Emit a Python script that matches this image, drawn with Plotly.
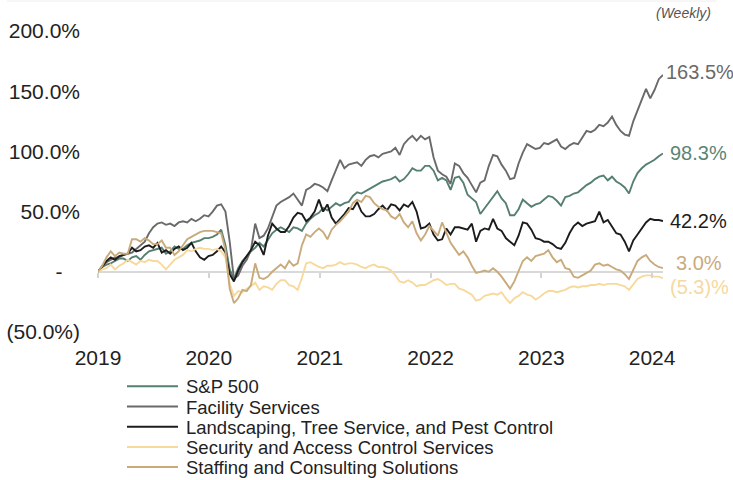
import pandas as pd
import plotly.graph_objects as go

# ---------------- data (cumulative return, %, bi-weekly samples) ----------------
dates = pd.date_range("2019-01-01", periods=134, freq="14D")

sp500 = ([0, 4, 6, 7, 9, 11, 11, 9, 12, 13, 10, 14, 17, 18, 19, 20, 15, 17, 21, 19, 19, 22, 24, 25, 26, 28]
         + [28, 29, 31, 35, 22, 2, -6, 3, 9, 13, 17, 20, 24, 21, 27, 32, 35, 37, 35, 33, 37, 36, 34, 40, 44, 47]
         + [49, 53, 51, 54, 57, 55, 57, 58, 63, 66, 65, 67, 69, 71, 73, 75, 76, 77, 79, 75, 77, 81, 86, 84, 84, 88]
         + [88, 84, 76, 78, 76, 68, 78, 79, 74, 64, 61, 58, 48, 53, 57, 63, 67, 61, 57, 47, 47, 52, 60, 57, 54, 56]
         + [57, 60, 63, 62, 59, 55, 62, 63, 65, 66, 69, 72, 74, 77, 79, 80, 76, 79, 75, 73, 70, 65, 75, 82, 86, 89]
         + [91, 93, 96, 98.3])

facility = ([0, 5, 8, 10, 12, 12, 14, 15, 16, 19, 22, 25, 32, 37, 40, 41, 39, 40, 38, 41, 42, 41, 44, 42, 44, 47]
            + [46, 50, 55, 56, 50, 25, -6, -3, 5, 10, 18, 40, 28, 30, 36, 45, 55, 58, 60, 62, 65, 60, 55, 68, 70, 73]
            + [72, 70, 67, 76, 85, 93, 86, 89, 90, 91, 88, 93, 96, 97, 95, 98, 99, 100, 103, 97, 106, 110, 113, 109, 113, 110]
            + [112, 95, 84, 81, 79, 73, 90, 88, 82, 78, 72, 66, 74, 76, 88, 97, 96, 89, 84, 77, 78, 90, 99, 106, 104, 102]
            + [103, 107, 106, 108, 110, 104, 102, 105, 107, 106, 112, 117, 116, 118, 122, 121, 124, 129, 122, 117, 114, 113, 125, 134, 144, 152]
            + [144, 151, 160, 163.5])

landscaping = ([0, 5, 9, 12, 10, 13, 14, 15, 20, 17, 18, 21, 22, 20, 24, 16, 18, 15, 19, 21, 18, 20, 24, 17, 12, 10]
               + [13, 14, 17, 21, 16, -2, -8, 1, 8, 13, 18, 25, 22, 14, 30, 40, 36, 33, 33, 38, 45, 49, 48, 42, 45, 50]
               + [60, 50, 56, 45, 40, 44, 48, 53, 52, 58, 50, 46, 46, 48, 52, 55, 51, 56, 55, 51, 56, 54, 58, 50, 36, 37]
               + [40, 31, 26, 27, 36, 31, 37, 37, 36, 35, 40, 25, 34, 36, 35, 44, 36, 34, 28, 25, 22, 30, 41, 40, 35, 28]
               + [27, 25, 25, 23, 20, 19, 24, 32, 38, 41, 38, 40, 41, 42, 50, 41, 43, 38, 32, 31, 25, 17, 26, 31, 36, 41]
               + [44, 43, 43, 42.2])

security = ([0, 2, 3, 6, 2, 5, 7, 10, 8, 6, 9, 8, 10, 9, 9, 6, 2, 6, 10, 12, 14, 18, 17, 19, 20, 19]
            + [19, 18, 19, 17, 12, -10, -20, -16, -17, -14, -12, -9, -15, -12, -13, -15, -10, -7, -7, -11, -12, -15, -5, 7, 8, 6]
            + [4, 3, 5, 5, 6, 8, 6, 7, 7, 6, 4, 3, 5, 6, 4, 4, 3, 1, -3, -8, -9, -7, -9, -12, -11, -11]
            + [-9, -7, -6, -8, -11, -10, -10, -14, -15, -17, -19, -24, -23, -20, -19, -18, -19, -17, -22, -26, -22, -20, -17, -19, -20, -23]
            + [-21, -18, -16, -16, -17, -16, -15, -13, -12, -13, -12, -12, -11, -11, -10, -11, -10, -10, -10, -11, -12, -15, -10, -6, -4, -3]
            + [-3, -4, -4, -5.3])

staffing = ([0, 5, 12, 17, 13, 16, 15, 15, 27, 27, 25, 28, 26, 23, 23, 26, 20, 20, 14, 17, 22, 27, 29, 31, 33, 34]
            + [34, 34, 33, 32, 18, -14, -26, -22, -15, -16, -11, 7, -5, -6, -4, 0, 3, 6, 3, 9, 5, 7, 22, 31, 29, 33]
            + [36, 33, 27, 35, 39, 42, 46, 50, 57, 60, 58, 63, 62, 57, 54, 52, 51, 46, 44, 48, 41, 37, 42, 32, 26, 31]
            + [38, 34, 30, 41, 33, 24, 19, 14, 17, 12, 5, -1, 0, 1, 0, 3, 0, -4, -9, -14, -8, 1, 9, 12, 9, 13]
            + [14, 15, 18, 12, 8, 10, 3, 2, -4, -5, -3, -1, 1, 6, 7, 5, 6, 4, 2, 1, -2, -6, 2, 9, 12, 14]
            + [9, 6, 4, 3.0])

series_names = ["S&P 500", "Facility Services", "Landscaping, Tree Service, and Pest Control",
                "Security and Access Control Services", "Staffing and Consulting Solutions"]
series_values = [sp500, facility, landscaping, security, staffing]
end_labels = ["98.3%", "163.5%", "42.2%", "(5.3)%", "3.0%"]

y_tick_vals = [200, 150, 100, 50, 0, -50]
y_tick_text = ["200.0%", "150.0%", "100.0%", "50.0%", "-\u00a0\u00a0\u00a0", "(50.0%)"]
x_tick_vals = ["2019-01-01", "2020-01-01", "2021-01-01", "2022-01-01", "2023-01-01", "2024-01-01"]
x_tick_text = ["2019", "2020", "2021", "2022", "2023", "2024"]

# ---------------- styling ----------------
colors = ["#557f70", "#6b6969", "#1c1c1c", "#f8d99c", "#c9ab7b"]
label_colors = ["#5a8576", "#6b6969", "#1c1c1c", "#f6d9a0", "#c9ab7b"]
label_dx = [5, 1, 5, 5, 11]
label_dy = [0, 3, 0, -9, 5]
FONT = "Liberation Sans, Arial, sans-serif"

W_PX, H_PX = 733, 480
L, R, T, B = 98, 663, 31, 332


def px(x):
    return (x - L) / (R - L)


def py(y):
    return (B - y) / (B - T)


fig = go.Figure()
for i in range(5):
    fig.add_trace(go.Scatter(
        x=dates, y=series_values[i], name=series_names[i], mode="lines",
        line=dict(color=colors[i], width=1.9), showlegend=False,
        hovertemplate="%{x|%b %d, %Y}: %{y:.1f}%<extra>" + series_names[i] + "</extra>",
    ))

# invisible carrier trace so the zero-line tick axis (x2) is rendered
fig.add_trace(go.Scatter(
    x=dates, y=sp500, xaxis="x2", yaxis="y", mode="lines",
    line=dict(width=0, color="rgba(0,0,0,0)"), hoverinfo="skip", showlegend=False,
))

annotations = []
for i in range(5):
    annotations.append(dict(
        x=dates[-1], y=series_values[i][-1], xref="x", yref="y",
        text=end_labels[i], showarrow=False, xanchor="left", yanchor="middle",
        xshift=label_dx[i], yshift=label_dy[i],
        font=dict(family=FONT, size=20, color=label_colors[i]),
    ))

annotations.append(dict(
    x=px(713), y=py(13.5), xref="paper", yref="paper", text="<i>(Weekly)</i>",
    showarrow=False, xanchor="right", yanchor="middle",
    font=dict(family=FONT, size=14, color="#555555"),
))

legend_rows = [386.7, 407, 427.3, 447.5, 467.5]
shapes = [dict(type="line", xref="paper", yref="paper",
               x0=px(7), x1=px(716), y0=py(1), y1=py(1),
               line=dict(color="#eeeeee", width=1))]
for i in range(5):
    annotations.append(dict(
        x=px(184), y=py(legend_rows[i]), xref="paper", yref="paper",
        text=series_names[i], showarrow=False, xanchor="left", yanchor="middle",
        font=dict(family=FONT, size=18.5, color="#222222"),
    ))
    shapes.append(dict(
        type="line", xref="paper", yref="paper",
        x0=px(127), x1=px(178), y0=py(legend_rows[i] - 0.5), y1=py(legend_rows[i] - 0.5),
        line=dict(color=colors[i], width=2),
    ))

x_range = [dates[0], dates[-1]]

fig.update_layout(
    width=W_PX, height=H_PX,
    margin=dict(l=L, r=W_PX - R, t=T, b=H_PX - B, pad=0, autoexpand=False),
    paper_bgcolor="white", plot_bgcolor="white",
    font=dict(family=FONT, size=21, color="#222222"),
    showlegend=False,
    annotations=annotations,
    shapes=shapes,
    xaxis=dict(
        type="date", range=x_range, tickvals=x_tick_vals, ticktext=x_tick_text,
        showgrid=False, zeroline=False, showline=False, ticks="", automargin=False,
        tickfont=dict(family=FONT, size=21, color="#222222"),
        ticklabelstandoff=11,
    ),
    xaxis2=dict(
        type="date", range=x_range, tickvals=x_tick_vals, showticklabels=False,
        overlaying="x", anchor="free", position=0.2, automargin=False,
        showgrid=False, zeroline=False, showline=False,
        ticks="outside", ticklen=5, tickwidth=1.5, tickcolor="#d4d4d4",
    ),
    yaxis=dict(
        range=[-50, 200], tickvals=y_tick_vals, ticktext=y_tick_text,
        showgrid=False, zeroline=True, zerolinecolor="#d9d9d9", zerolinewidth=2,
        showline=False, ticks="", automargin=False,
        tickfont=dict(family=FONT, size=21, color="#222222"),
        ticklabelstandoff=17,
    ),
)

fig.write_html("out.html")
